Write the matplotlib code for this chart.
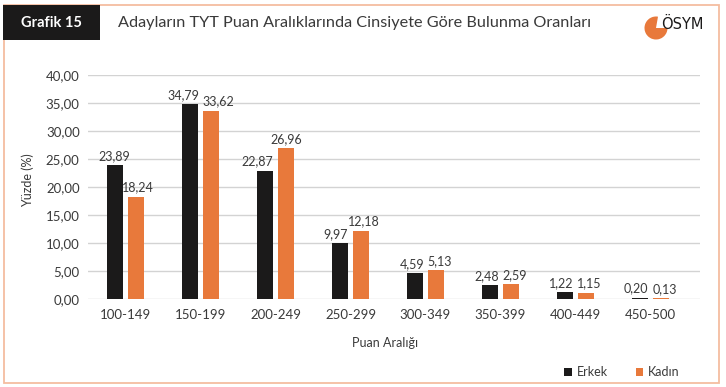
import matplotlib.pyplot as plt
import numpy as np
from matplotlib.patches import Rectangle, Wedge

categories = ['100-149', '150-199', '200-249', '250-299', '300-349', '350-399', '400-449', '450-500']
erkek = [23.89, 34.79, 22.87, 9.97, 4.59, 2.48, 1.22, 0.20]
kadin = [18.24, 33.62, 26.96, 12.18, 5.13, 2.59, 1.15, 0.13]

black = '#1b1a1a'
orange = '#e8793b'
border = '#f4bda0'
txt = '#3a3a3a'

plt.rcParams['font.family'] = ['Lato', 'DejaVu Sans']

W, H = 726, 387
fig = plt.figure(figsize=(W / 100, H / 100), dpi=100)

def fx(px):
    return px / W

def fy(py):
    return 1 - py / H

# frame and header
fig.add_artist(Rectangle((fx(4), fy(383)), fx(719) - fx(4), fy(5) - fy(383),
                         transform=fig.transFigure, fill=False, edgecolor=border, lw=1.3))
fig.add_artist(Rectangle((fx(3), fy(40)), fx(100) - fx(3), fy(5) - fy(40),
                         transform=fig.transFigure, facecolor=black, edgecolor='none'))
fig.text(fx(51), fy(23), 'Grafik 15', color='white', fontsize=10.5, fontweight='bold',
         ha='center', va='center')
fig.text(fx(118), fy(23), 'Adayların TYT Puan Aralıklarında Cinsiyete Göre Bulunma Oranları',
         color=txt, fontsize=11.7, ha='left', va='center')

# logo
lax = fig.add_axes([fx(636), fy(44), fx(40), fy(12) - fy(44)])
lax.set_xlim(-20, 20)
lax.set_ylim(-16, 16)
lax.set_aspect('equal')
lax.axis('off')
lax.add_patch(Wedge((0, 0), 11.5, 80, 360, facecolor=orange, edgecolor='none'))
fig.text(fx(682), fy(24), 'ÖSYM', color=black, fontsize=10.5, family='DejaVu Sans',
         ha='center', va='center')

# chart
ax = fig.add_axes([fx(88), fy(299), fx(700) - fx(88), fy(75) - fy(299)])
x = np.arange(len(categories))
w = 0.215
off = 0.144
b1 = ax.bar(x - off, erkek, w, color=black, label='Erkek', zorder=3)
b2 = ax.bar(x + off, kadin, w, color=orange, label='Kadın', zorder=3)

# small nudges of value labels so neighbours don't collide
nudge_e = [0, -0.09, -0.1, -0.06, -0.04, -0.04, -0.04, -0.05]
nudge_k = [0.02, 0.09, 0.0, 0.04, 0.04, 0.04, 0.04, 0.05]
for bars, vals, dxs in ((b1, erkek, nudge_e), (b2, kadin, nudge_k)):
    for r, v, dx in zip(bars, vals, dxs):
        ax.text(r.get_x() + r.get_width() / 2 + dx, v + 0.6, f'{v:.2f}'.replace('.', ','),
                ha='center', va='bottom', fontsize=9, color=txt)

ax.set_ylim(0, 40)
ax.set_xlim(-0.5, 7.66)
ax.set_yticks(np.arange(0, 41, 5))
ax.set_yticklabels([f'{v:.2f}'.replace('.', ',') for v in np.arange(0, 41, 5)])
ax.set_xticks(x)
ax.set_xticklabels(categories)
ax.tick_params(axis='both', length=0, labelsize=9.5, colors=txt)
ax.tick_params(axis='y', pad=6)
ax.tick_params(axis='x', pad=7)
ax.grid(axis='y', color='#d3d3d3', lw=1, zorder=0)
for s in ax.spines.values():
    s.set_visible(False)

fig.text(fx(28), fy(180), 'Yüzde (%)', rotation=90, fontsize=9, color=txt,
         ha='center', va='center')
fig.text(fx(385), fy(343), 'Puan Aralığı', fontsize=9, color=txt,
         ha='center', va='center')

fig.legend(handles=[b1, b2], labels=['Erkek', 'Kadın'], loc='center',
           bbox_to_anchor=(fx(622), fy(372)), ncol=2, frameon=False, fontsize=9,
           handlelength=0.6, handleheight=0.6, handletextpad=0.4, columnspacing=2.2,
           labelcolor=txt)

fig.savefig('out.png', dpi=100)
